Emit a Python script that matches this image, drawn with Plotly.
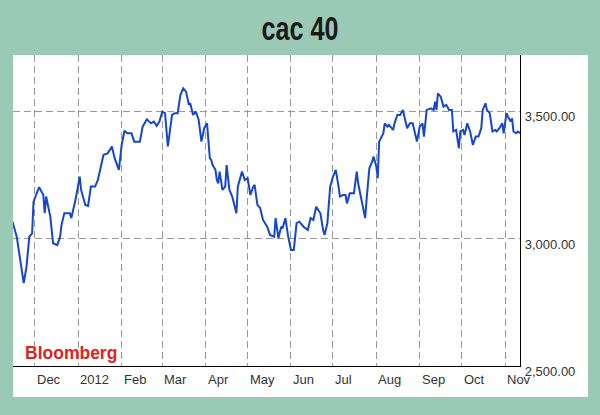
import plotly.graph_objects as go

dates = [
    "2011-11-15", "2011-11-18", "2011-11-23", "2011-11-25", "2011-11-27", "2011-11-29", "2011-11-30",
    "2011-12-01", "2011-12-04", "2011-12-07", "2011-12-08", "2011-12-09", "2011-12-12", "2011-12-14",
    "2011-12-17", "2011-12-19", "2011-12-20", "2011-12-22", "2011-12-26", "2011-12-27", "2011-12-30",
    "2012-01-02", "2012-01-03", "2012-01-06", "2012-01-08", "2012-01-10", "2012-01-13", "2012-01-15",
    "2012-01-17", "2012-01-19", "2012-01-22", "2012-01-25", "2012-01-27", "2012-01-30",
    "2012-02-01", "2012-02-03", "2012-02-05", "2012-02-08", "2012-02-10", "2012-02-14", "2012-02-16",
    "2012-02-19", "2012-02-22", "2012-02-24", "2012-02-26", "2012-02-28",
    "2012-03-01", "2012-03-03", "2012-03-04", "2012-03-05", "2012-03-08", "2012-03-10", "2012-03-12",
    "2012-03-14", "2012-03-16", "2012-03-18", "2012-03-20", "2012-03-21", "2012-03-23", "2012-03-25",
    "2012-03-27", "2012-03-29", "2012-03-31",
    "2012-04-02", "2012-04-04", "2012-04-05", "2012-04-06", "2012-04-08", "2012-04-09", "2012-04-10",
    "2012-04-11", "2012-04-13", "2012-04-15", "2012-04-16", "2012-04-18", "2012-04-20", "2012-04-23",
    "2012-04-24", "2012-04-27", "2012-04-29",
    "2012-05-01", "2012-05-03", "2012-05-05", "2012-05-06", "2012-05-08", "2012-05-10", "2012-05-12",
    "2012-05-15", "2012-05-17", "2012-05-20", "2012-05-21", "2012-05-23", "2012-05-25", "2012-05-26",
    "2012-05-28", "2012-05-30",
    "2012-06-01", "2012-06-03", "2012-06-05", "2012-06-07", "2012-06-10", "2012-06-13", "2012-06-15",
    "2012-06-17", "2012-06-19", "2012-06-22", "2012-06-24", "2012-06-25", "2012-06-27", "2012-06-29",
    "2012-07-01", "2012-07-03", "2012-07-05", "2012-07-06", "2012-07-08", "2012-07-10", "2012-07-11",
    "2012-07-13", "2012-07-16", "2012-07-18", "2012-07-19", "2012-07-22", "2012-07-24", "2012-07-25",
    "2012-07-27", "2012-07-29", "2012-07-30",
    "2012-08-01", "2012-08-02", "2012-08-03", "2012-08-04", "2012-08-06", "2012-08-07", "2012-08-09",
    "2012-08-10", "2012-08-13", "2012-08-14", "2012-08-16", "2012-08-18", "2012-08-20", "2012-08-21",
    "2012-08-23", "2012-08-25", "2012-08-27", "2012-08-30",
    "2012-09-01", "2012-09-03", "2012-09-04", "2012-09-06", "2012-09-09", "2012-09-11", "2012-09-12",
    "2012-09-13", "2012-09-14", "2012-09-16", "2012-09-18", "2012-09-20", "2012-09-22", "2012-09-24",
    "2012-09-25", "2012-09-27", "2012-09-29", "2012-09-30",
    "2012-10-02", "2012-10-03", "2012-10-05", "2012-10-07", "2012-10-09", "2012-10-11", "2012-10-13",
    "2012-10-15", "2012-10-16", "2012-10-18", "2012-10-19", "2012-10-21", "2012-10-23", "2012-10-25",
    "2012-10-26", "2012-10-28", "2012-10-30", "2012-10-31",
    "2012-11-02", "2012-11-03", "2012-11-05", "2012-11-06", "2012-11-07", "2012-11-09", "2012-11-10",
    "2012-11-12",
]

values = [
    3068, 3009, 2826, 2891, 3009, 3022, 3147,
    3160, 3204, 3173, 3101, 3167, 3088, 2983,
    2976, 3009, 3055, 3101, 3101, 3082, 3154,
    3245, 3193, 3134, 3130, 3206, 3206, 3232,
    3278, 3331, 3337, 3364, 3318, 3272,
    3370, 3426, 3416, 3416, 3383, 3383, 3442,
    3471, 3455, 3462, 3445, 3462,
    3501, 3495, 3429, 3364, 3488, 3495, 3495,
    3567, 3593, 3580, 3528, 3534, 3488, 3501,
    3469, 3383, 3436,
    3455, 3318, 3311, 3291, 3272, 3232, 3219,
    3265, 3193, 3206, 3291, 3193, 3167, 3101,
    3206, 3265, 3232,
    3239, 3173, 3206, 3213, 3134, 3121, 3075,
    3048, 3016, 3009, 3082, 3003, 3048, 3042,
    3082, 3009,
    2957, 2957, 3062, 3068, 3048, 3035, 3082,
    3075, 3127, 3101, 3035, 3016, 3062, 3206,
    3245, 3272, 3206, 3167, 3173, 3173, 3140,
    3180, 3180, 3265, 3219, 3127, 3082, 3154,
    3278, 3304, 3324,
    3285, 3239, 3383, 3396, 3416, 3455, 3442,
    3449, 3429, 3455, 3488, 3488, 3508, 3482,
    3436, 3455, 3455, 3383,
    3442, 3455, 3403, 3508, 3514, 3508, 3540,
    3508, 3573, 3560, 3521, 3528, 3508, 3508,
    3423, 3429, 3357, 3423,
    3429, 3409, 3455, 3423, 3370, 3403, 3403,
    3436, 3508, 3534, 3508, 3495, 3423, 3429,
    3423, 3436, 3455, 3416,
    3495, 3482, 3462, 3475, 3423, 3416, 3423,
    3416,
]

month_starts = ["2011-12-01", "2012-01-01", "2012-02-01", "2012-03-01", "2012-04-01", "2012-05-01",
                "2012-06-01", "2012-07-01", "2012-08-01", "2012-09-01", "2012-10-01", "2012-11-01"]
month_labels = ["Dec", "2012", "Feb", "Mar", "Apr", "May", "Jun", "Jul", "Aug", "Sep", "Oct", "Nov"]

y_ticks = [2500, 3000, 3500]
y_tick_labels = ["2,500.00", "3,000.00", "3,500.00"]

title_text = "cac 40"
source_text = "Bloomberg"

fig = go.Figure()
fig.add_trace(go.Scatter(
    x=dates, y=values, mode="lines",
    line=dict(color="#1646cc", width=2),
    hoverinfo="skip", showlegend=False,
))

# white panel behind chart and y labels
fig.add_shape(type="rect", xref="paper", yref="paper",
              x0=0, x1=1.134, y0=-0.0997, y1=1,
              fillcolor="white", line=dict(width=0), layer="below")

for d, lab in zip(month_starts, month_labels):
    fig.add_annotation(x=d, xref="x", y=-0.045, yref="paper", text=lab,
                       showarrow=False, xanchor="left", yanchor="middle", xshift=0,
                       font=dict(family="Liberation Sans, Arial", size=13, color="#333333"))

fig.add_annotation(x=0.0197, xref="paper", y=0.042, yref="paper", text="<b>" + source_text + "</b>",
                   showarrow=False, xanchor="left", yanchor="middle",
                   font=dict(family="Liberation Sans, Arial", size=17.5, color="#e0241c"))

fig.update_layout(
    width=600, height=415,
    margin=dict(l=13, r=80, t=55, b=49),
    paper_bgcolor="#9acab6",
    plot_bgcolor="white",
    title=dict(text="<b>" + title_text + "</b>", x=0.5, xref="container", xanchor="center",
               y=1 - 28 / 415, yref="container", yanchor="middle",
               font=dict(family="Liberation Sans, Arial", size=34, color="#1a1a1a")),
    xaxis=dict(
        type="date",
        range=["2011-11-15 08:00", "2012-11-11 16:00"],
        tickvals=month_starts, showticklabels=False, ticks="",
        showgrid=True, gridcolor="#999999", gridwidth=1, griddash="7px,4px",
        showline=True, linecolor="black", linewidth=1.3, mirror=False,
        zeroline=False, fixedrange=True,
    ),
    yaxis=dict(
        side="right",
        range=[2500, 3724],
        tickvals=y_ticks, ticktext=y_tick_labels, ticks="",
        tickfont=dict(family="Liberation Sans, Arial", size=13, color="#333333"),
        ticklabelshift=5, ticklabelstandoff=1,
        showgrid=True, gridcolor="#999999", gridwidth=1, griddash="7px,4px",
        showline=True, linecolor="black", linewidth=1.3, mirror=False,
        zeroline=False, fixedrange=True,
    ),
)

post = """
document.body.style.margin = '0px';
var t = document.querySelector('.gtitle');
if (t) {
  t.style.transformBox = 'fill-box';
  t.style.transformOrigin = 'center';
  t.style.transform = 'scaleX(0.74)';
}
"""

fig.write_html("out.html", post_script=post, config={"displayModeBar": False})
